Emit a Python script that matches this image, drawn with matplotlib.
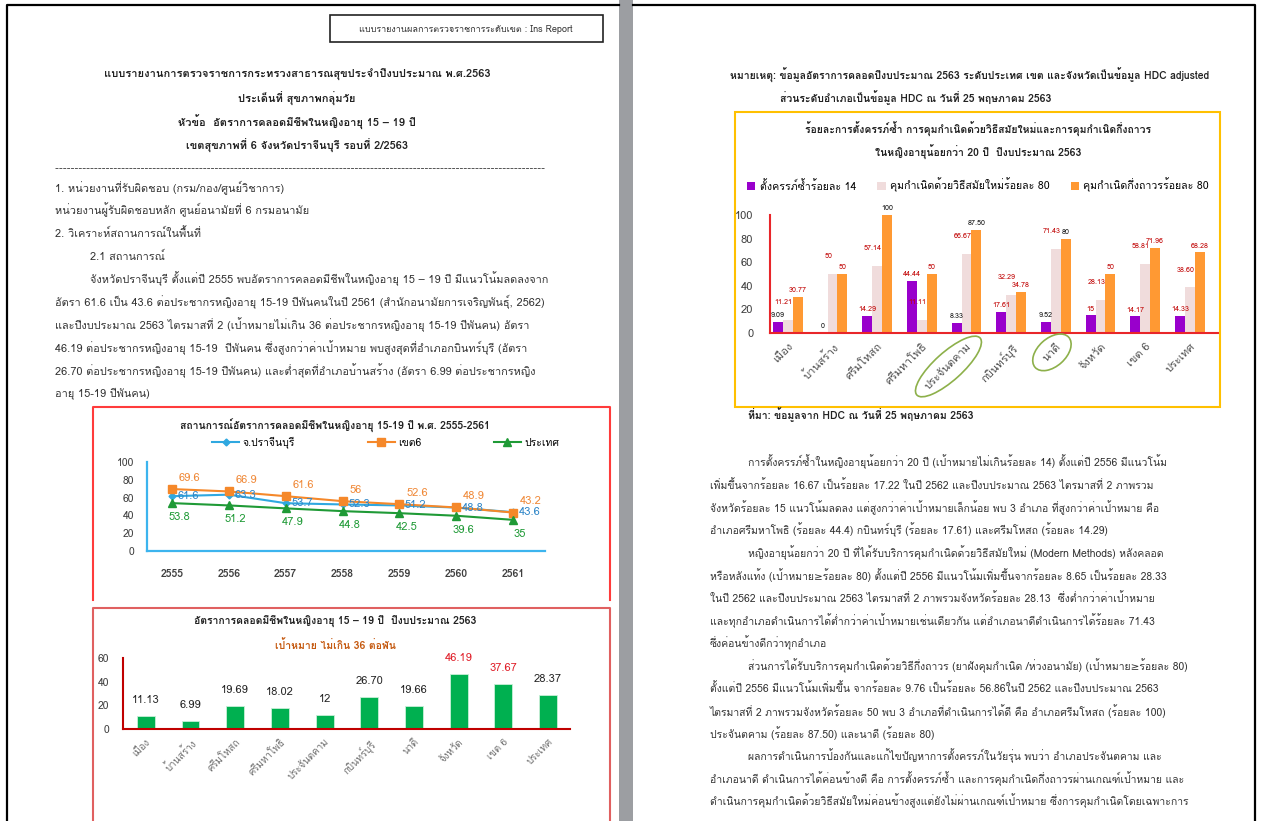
import numpy as np
import matplotlib
matplotlib.use("Agg")
import matplotlib.pyplot as plt
from matplotlib import font_manager
from matplotlib.ft2font import FT2Font
from matplotlib.lines import Line2D
from matplotlib.patches import Rectangle, Ellipse

# ---------------- data ----------------
years = ['2555', '2556', '2557', '2558', '2559', '2560', '2561']
prachin = [61.6, 63.3, 53.7, 52.3, 51.2, 48.8, 43.6]
region6 = [69.6, 66.9, 61.6, 56, 52.6, 48.9, 43.2]
country = [53.8, 51.2, 47.9, 44.8, 42.5, 39.6, 35]
line_names = ['จ.ปราจีนบุรี', 'เขต6', 'ประเทศ']

areas = ['เมือง', 'บ้านสร้าง', 'ศรีมโหสถ', 'ศรีมหาโพธิ', 'ประจันตคาม',
         'กบินทร์บุรี', 'นาดี', 'จังหวัด', 'เขต 6', 'ประเทศ']
birth_rate = [11.13, 6.99, 19.69, 18.02, 12, 26.70, 19.66, 46.19, 37.67, 28.37]
birth_target = 36

repeat_preg = [9.09, 0, 14.29, 44.44, 8.33, 17.61, 9.52, 15, 14.17, 14.33]
modern_cc = [11.21, 50, 57.14, 11.11, 66.67, 32.29, 71.43, 28.13, 58.81, 38.60]
longterm_cc = [30.77, 50, 100, 50, 87.50, 34.78, 80, 50, 71.96, 68.28]
bar_names = ['ตั้งครรภ์ซ้ำร้อยละ 14', 'คุมกำเนิดด้วยวิธีสมัยใหม่ร้อยละ 80',
             'คุมกำเนิดกึ่งถาวรร้อยละ 80']
circled = ['ประจันตคาม', 'นาดี']

header_box = 'แบบรายงานผลการตรวจราชการระดับเขต : Ins Report'
title_lines = [
    'แบบรายงานการตรวจราชการกระทรวงสาธารณสุขประจำปีงบประมาณ พ.ศ.2563',
    'ประเด็นที่ สุขภาพกลุ่มวัย',
    'หัวข้อ  อัตราการคลอดมีชีพในหญิงอายุ 15 – 19 ปี',
    'เขตสุขภาพที่ 6 จังหวัดปราจีนบุรี รอบที่ 2/2563',
]
left_body = [
    (0, '1. หน่วยงานที่รับผิดชอบ (กรม/กอง/ศูนย์วิชาการ)'),
    (0, 'หน่วยงานผู้รับผิดชอบหลัก ศูนย์อนามัยที่ 6 กรมอนามัย'),
    (0, '2. วิเคราะห์สถานการณ์ในพื้นที่'),
    (1, '2.1 สถานการณ์'),
    (1, 'จังหวัดปราจีนบุรี ตั้งแต่ปี 2555 พบอัตราการคลอดมีชีพในหญิงอายุ 15 – 19 ปี มีแนวโน้มลดลงจาก'),
    (0, 'อัตรา 61.6 เป็น 43.6 ต่อประชากรหญิงอายุ 15-19 ปีพันคนในปี 2561 (สำนักอนามัยการเจริญพันธุ์, 2562)'),
    (0, 'และปีงบประมาณ 2563 ไตรมาสที่ 2 (เป้าหมายไม่เกิน 36 ต่อประชากรหญิงอายุ 15-19 ปีพันคน) อัตรา'),
    (0, '46.19 ต่อประชากรหญิงอายุ 15-19  ปีพันคน ซึ่งสูงกว่าค่าเป้าหมาย พบสูงสุดที่อำเภอกบินทร์บุรี (อัตรา'),
    (0, '26.70 ต่อประชากรหญิงอายุ 15-19 ปีพันคน) และต่ำสุดที่อำเภอบ้านสร้าง (อัตรา 6.99 ต่อประชากรหญิง'),
    (0, 'อายุ 15-19 ปีพันคน)'),
]
line_title = 'สถานการณ์อัตราการคลอดมีชีพในหญิงอายุ 15-19 ปี พ.ศ. 2555-2561'
bar_title = 'อัตราการคลอดมีชีพในหญิงอายุ 15 – 19 ปี  ปีงบประมาณ 2563'
bar_sub = 'เป้าหมาย ไม่เกิน 36 ต่อพัน'

note_lines = ['หมายเหตุ: ข้อมูลอัตราการคลอดปีงบประมาณ 2563 ระดับประเทศ เขต และจังหวัดเป็นข้อมูล HDC adjusted',
              'ส่วนระดับอำเภอเป็นข้อมูล HDC ณ วันที่ 25 พฤษภาคม 2563']
grp_title = ['ร้อยละการตั้งครรภ์ซ้ำ การคุมกำเนิดด้วยวิธีสมัยใหม่และการคุมกำเนิดกึ่งถาวร',
             'ในหญิงอายุน้อยกว่า 20 ปี  ปีงบประมาณ 2563']
source = 'ที่มา: ข้อมูลจาก HDC ณ วันที่ 25 พฤษภาคม 2563'
right_body = [
    (1, 'การตั้งครรภ์ซ้ำในหญิงอายุน้อยกว่า 20 ปี (เป้าหมายไม่เกินร้อยละ 14) ตั้งแต่ปี 2556 มีแนวโน้ม'),
    (0, 'เพิ่มขึ้นจากร้อยละ 16.67 เป็นร้อยละ 17.22 ในปี 2562 และปีงบประมาณ 2563 ไตรมาสที่ 2 ภาพรวม'),
    (0, 'จังหวัดร้อยละ 15 แนวโน้มลดลง แต่สูงกว่าค่าเป้าหมายเล็กน้อย พบ 3 อำเภอ ที่สูงกว่าค่าเป้าหมาย คือ'),
    (0, 'อำเภอศรีมหาโพธิ (ร้อยละ 44.4) กบินทร์บุรี (ร้อยละ 17.61) และศรีมโหสถ (ร้อยละ 14.29)'),
    (1, 'หญิงอายุน้อยกว่า 20 ปี ที่ได้รับบริการคุมกำเนิดด้วยวิธีสมัยใหม่ (Modern Methods) หลังคลอด'),
    (0, 'หรือหลังแท้ง (เป้าหมาย≥ร้อยละ 80) ตั้งแต่ปี 2556 มีแนวโน้มเพิ่มขึ้นจากร้อยละ 8.65 เป็นร้อยละ 28.33'),
    (0, 'ในปี 2562 และปีงบประมาณ 2563 ไตรมาสที่ 2 ภาพรวมจังหวัดร้อยละ 28.13  ซึ่งต่ำกว่าค่าเป้าหมาย'),
    (0, 'และทุกอำเภอดำเนินการได้ต่ำกว่าค่าเป้าหมายเช่นเดียวกัน แต่อำเภอนาดีดำเนินการได้ร้อยละ 71.43'),
    (0, 'ซึ่งค่อนข้างดีกว่าทุกอำเภอ'),
    (1, 'ส่วนการได้รับบริการคุมกำเนิดด้วยวิธีกึ่งถาวร (ยาฝังคุมกำเนิด /ห่วงอนามัย) (เป้าหมาย≥ร้อยละ 80)'),
    (0, 'ตั้งแต่ปี 2556 มีแนวโน้มเพิ่มขึ้น จากร้อยละ 9.76 เป็นร้อยละ 56.86ในปี 2562 และปีงบประมาณ 2563'),
    (0, 'ไตรมาสที่ 2 ภาพรวมจังหวัดร้อยละ 50 พบ 3 อำเภอที่ดำเนินการได้ดี คือ อำเภอศรีมโหสถ (ร้อยละ 100)'),
    (0, 'ประจันตคาม (ร้อยละ 87.50) และนาดี (ร้อยละ 80)'),
    (1, 'ผลการดำเนินการป้องกันและแก้ไขปัญหาการตั้งครรภ์ในวัยรุ่น พบว่า อำเภอประจันตคาม และ'),
    (0, 'อำเภอนาดี ดำเนินการได้ค่อนข้างดี คือ การตั้งครรภ์ซ้ำ และการคุมกำเนิดกึ่งถาวรผ่านเกณฑ์เป้าหมาย และ'),
    (0, 'ดำเนินการคุมกำเนิดด้วยวิธีสมัยใหม่ค่อนข้างสูงแต่ยังไม่ผ่านเกณฑ์เป้าหมาย ซึ่งการคุมกำเนิดโดยเฉพาะการ'),
]


# ---------------- fonts ----------------
def find_thai_font():
    for f in font_manager.fontManager.ttflist:
        try:
            if 0x0E01 in FT2Font(f.fname).get_charmap():
                return f.name
        except Exception:
            pass
    return None


thai = find_thai_font()
plt.rcParams['font.family'] = ([thai] if thai else []) + ['DejaVu Sans']

W, H = 1263, 821
fig = plt.figure(figsize=(W / 100, H / 100), dpi=100)
fig.patch.set_facecolor('white')


def box(l, t, r, b):
    return [l / W, 1 - b / H, (r - l) / W, (b - t) / H]


def put(x, y, s, size=7.5, **kw):
    kw.setdefault('va', 'center')
    return fig.text(x / W, 1 - y / H, s, fontsize=size, **kw)


def poly(pts, color, lw, **kw):
    xs = [p[0] / W for p in pts]
    ys = [1 - p[1] / H for p in pts]
    fig.add_artist(Line2D(xs, ys, color=color, lw=lw, transform=fig.transFigure, **kw))


def fmt(v):
    return '%d' % v if float(v).is_integer() else '%.2f' % v


# ---------------- page frames ----------------
fig.add_artist(Rectangle((619 / W, 0), 14 / W, 1, transform=fig.transFigure,
                         facecolor='#9c9ea2', edgecolor='none'))
poly([(7, 821), (7, 5), (619, 5)], 'black', 1.6)
poly([(633, 5), (1255, 5), (1255, 821)], 'black', 1.6)

# ---------------- left page text ----------------
fig.add_artist(Rectangle((330 / W, 1 - 42 / H), 273 / W, 27 / H, transform=fig.transFigure,
                         facecolor='none', edgecolor='#222222', lw=1.2))
put(466, 29, header_box, size=6.5, ha='center', color='#333333')
for i, s in enumerate(title_lines):
    put(297, 75 + i * 23.7, s, size=8, ha='center', fontweight='bold', color='#222222')
poly([(55, 168), (545, 168)], '#555555', 0.7, linestyle=(0, (3, 1)))
for i, (ind, s) in enumerate(left_body):
    put(55 + ind * 35, 187 + i * 23, s, size=7.9, ha='left', color='#333333')

# ---------------- chart 1: line chart ----------------
poly([(93, 600), (93, 407), (610, 407), (610, 600)], '#ff3b3b', 1.5)
put(335, 426, line_title, size=7.5, ha='center', fontweight='bold', color='#222222')
ax1 = fig.add_axes(box(147, 462, 545, 551))
x = np.arange(len(years))
styles = [('#2fa8e0', 'D', 3.5), ('#f5882a', 's', 6), ('#1f9a36', '^', 6)]
handles = []
for vals, name, (col, mk, ms) in zip([prachin, region6, country], line_names, styles):
    h, = ax1.plot(x, vals, color=col, marker=mk, markersize=ms, lw=1.5, label=name)
    handles.append(h)
for xi, v in zip(x, prachin):
    ax1.annotate('%g' % v, (xi, v), xytext=(4, 0), textcoords='offset points',
                 ha='left', va='center', fontsize=8, color='#2f86c8')
for xi, v in zip(x, region6):
    ax1.annotate('%g' % v, (xi, v), xytext=(5, 8), textcoords='offset points',
                 ha='left', va='center', fontsize=8, color='#f08a3a')
for xi, v in zip(x, country):
    ax1.annotate('%g' % v, (xi, v), xytext=(5, -10), textcoords='offset points',
                 ha='center', va='center', fontsize=8, color='#1f9a36')
ax1.set_xlim(-0.44, 6.56)
ax1.set_ylim(0, 100)
ax1.set_xticks(x, years, fontweight='bold')
ax1.set_yticks(range(0, 101, 20))
ax1.tick_params(length=0, labelsize=7.5, labelcolor='#404040')
ax1.tick_params(axis='x', pad=13)
ax1.tick_params(axis='y', pad=9)
for s in ['top', 'right']:
    ax1.spines[s].set_visible(False)
for s in ['left', 'bottom']:
    ax1.spines[s].set_color('#3cb4ee')
    ax1.spines[s].set_linewidth(1.6)
ax1.patch.set_alpha(0)
fig.legend(handles=handles, loc='center left', bbox_to_anchor=(212 / W, 1 - 443 / H),
           ncol=3, frameon=False, fontsize=7.5, columnspacing=7, handlelength=2.6,
           handletextpad=0.3, borderpad=0, borderaxespad=0)

# ---------------- chart 2: bar chart ----------------
poly([(93, 821), (93, 608), (610, 608), (610, 821)], '#e06060', 1.5)
put(335, 622, bar_title, size=7.5, ha='center', fontweight='bold', color='#222222')
put(335, 645, bar_sub, size=7.5, ha='center', fontweight='bold', color='#c55a11')
ax2 = fig.add_axes(box(123, 658, 570, 729))
xb = np.arange(len(areas))
ax2.bar(xb, birth_rate, width=0.4, color='#00b050', edgecolor='#c8f0d8', lw=0.6)
for xi, v in zip(xb, birth_rate):
    col = '#e0202a' if v > birth_target else '#262626'
    ax2.annotate(fmt(v), (xi, v), xytext=(0, 8), textcoords='offset points',
                 ha='center', va='bottom', fontsize=8, color=col)
ax2.set_xlim(-0.51, 9.49)
ax2.set_ylim(0, 60)
ax2.set_yticks(range(0, 61, 20))
ax2.set_xticks(xb, areas, rotation=45, ha='right', rotation_mode='anchor')
ax2.tick_params(length=0, labelsize=7.5, labelcolor='#404040')
ax2.tick_params(axis='x', labelsize=7, labelcolor='#6f6f6f', pad=6)
ax2.tick_params(axis='y', pad=10)
for s in ['top', 'right']:
    ax2.spines[s].set_visible(False)
for s in ['left', 'bottom']:
    ax2.spines[s].set_color('#c00000')
    ax2.spines[s].set_linewidth(1.5)
ax2.patch.set_alpha(0)

# ---------------- right page ----------------
put(730, 75, note_lines[0], size=7.5, ha='left', fontweight='bold', color='#222222')
put(780, 98, note_lines[1], size=7.5, ha='left', fontweight='bold', color='#222222')
fig.add_artist(Rectangle((735 / W, 1 - 407 / H), 485 / W, 295 / H, transform=fig.transFigure,
                         facecolor='none', edgecolor='#ffc000', lw=1.5))
for i, s in enumerate(grp_title):
    put(978, 129 + i * 23, s, size=7.5, ha='center', fontweight='bold', color='#222222')

ax3 = fig.add_axes(box(770, 215, 1218, 333))
xg = np.arange(len(areas))
bw = 0.22
series = [repeat_preg, modern_cc, longterm_cc]
colors = ['#9900cc', '#f0dcdc', '#ff9933']
bars = []
for k, (vals, col, name) in enumerate(zip(series, colors, bar_names)):
    b = ax3.bar(xg + (k - 1) * bw, vals, width=bw, color=col, label=name)
    bars.append(b)
    for xi, v in zip(xg, vals):
        if k == 0:
            bad = v > 14
        else:
            bad = v < 80
        dy = 10 if k == 1 else 2
        ax3.annotate(fmt(v), (xi + (k - 1) * bw, v), xytext=(-3 if k == 1 else 0, dy),
                     textcoords='offset points', ha='center', va='bottom', fontsize=5.2,
                     color='#c00000' if bad else '#111111')
ax3.set_xlim(-0.4, 9.63)
ax3.set_ylim(0, 100)
ax3.set_yticks(range(0, 101, 20))
ax3.set_xticks(xg, areas, rotation=45, ha='right', rotation_mode='anchor')
ax3.tick_params(length=0, labelsize=8, labelcolor='#404040')
ax3.tick_params(axis='x', labelsize=8, labelcolor='#505050', pad=6)
ax3.tick_params(axis='y', pad=12)
for s in ['top', 'right']:
    ax3.spines[s].set_visible(False)
for s in ['left', 'bottom']:
    ax3.spines[s].set_color('#e8262a')
    ax3.spines[s].set_linewidth(1.5)
ax3.patch.set_alpha(0)
fig.legend(handles=bars, loc='center left', bbox_to_anchor=(747 / W, 1 - 185 / H),
           ncol=3, frameon=False, fontsize=7.6, columnspacing=2.0, handlelength=0.8,
           handleheight=0.8, handletextpad=0.4, borderpad=0, borderaxespad=0)

# green ellipses round two district labels
fig.canvas.draw()
for lbl in ax3.get_xticklabels():
    if lbl.get_text() in circled:
        bb = lbl.get_window_extent()
        cx, cy = (bb.x0 + bb.x1) / 2, (bb.y0 + bb.y1) / 2
        size = np.hypot(bb.width, bb.height)
        e = Ellipse((cx / 100, cy / 100), (size + 14) / 100, 28 / 100, angle=42,
                    transform=fig.dpi_scale_trans, fill=False, edgecolor='#8db04a', lw=1.2)
        fig.add_artist(e)

put(748, 415, source, size=7.5, ha='left', fontweight='bold', color='#222222')
for i, (ind, s) in enumerate(right_body):
    put(710 + ind * 38, 462 + i * 22.6, s, size=7.5, ha='left', color='#333333')

fig.savefig('out.png', dpi=100)
